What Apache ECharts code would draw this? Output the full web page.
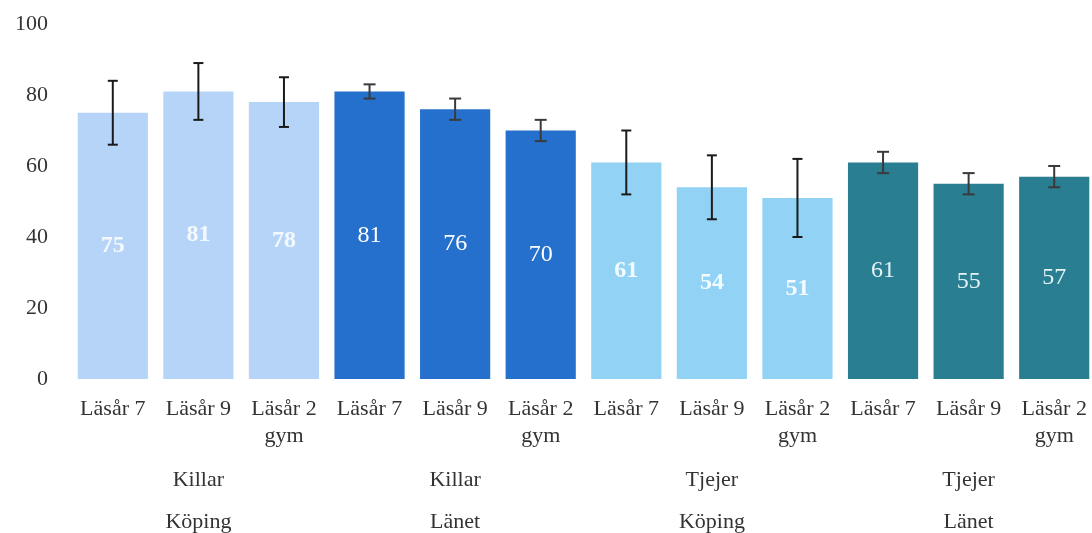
<!DOCTYPE html>
<html>
<head>
<meta charset="utf-8">
<script src="https://cdn.jsdelivr.net/npm/echarts@6/dist/echarts.min.js"></script>
<style>html,body{margin:0;padding:0;background:#fff;}#c{width:1092px;height:533px;}</style>
</head>
<body>
<div id="c"></div>
<script>
const categories = ['Läsår 7','Läsår 9','Läsår 2\ngym','Läsår 7','Läsår 9','Läsår 2\ngym','Läsår 7','Läsår 9','Läsår 2\ngym','Läsår 7','Läsår 9','Läsår 2\ngym'];
const groups = ['Killar\nKöping','Killar\nLänet','Tjejer\nKöping','Tjejer\nLänet'];
const groupOfBar = [0,0,0,1,1,1,2,2,2,3,3,3];
const values = [75,81,78,81,76,70,61,54,51,61,55,57];
const errLow = [66,73,71,79,73,67,52,45,40,58,52,54];
const errHigh = [84,89,85,83,79,73,70,63,62,64,58,60];
const yTicks = [0,20,40,60,80,100];

const palette = ['#b6d4f7','#2570cc','#92d2f4','#2a7e91'];
const labelColors = ['#f4f9ff','#ffffff','#f4fbff','#e4f3f5'];
const errColors = ['#1a1a1a','#3a3a3a','#1a1a1a','#3a3a3a'];
const serif = '"Liberation Serif", "DejaVu Serif", serif';

const chart = echarts.init(document.getElementById('c'));
chart.setOption({
  animation: false,
  grid: {left: 70, top: 24, width: 1027, height: 355, containLabel: false, outerBoundsMode: 'none'},
  xAxis: [{
    type: 'category', data: categories,
    axisLine: {show: false}, axisTick: {show: false},
    axisLabel: {color: '#333', fontFamily: serif, fontSize: 22, lineHeight: 27, margin: 17, interval: 0}
  }, {
    type: 'category', data: groups, position: 'bottom',
    axisLine: {show: false}, axisTick: {show: false},
    axisLabel: {color: '#333', fontFamily: serif, fontSize: 22, lineHeight: 42, margin: 80, interval: 0}
  }],
  yAxis: {
    type: 'value', min: yTicks[0], max: yTicks[yTicks.length-1], interval: 20,
    axisLine: {show: false}, axisTick: {show: false}, splitLine: {show: false},
    axisLabel: {color: '#333', fontFamily: serif, fontSize: 22, margin: 22}
  },
  series: [{
    type: 'bar', xAxisIndex: 0, barWidth: '82%',
    data: values.map((v, i) => ({
      value: v,
      itemStyle: {color: palette[groupOfBar[i]]},
      label: {
        show: true, position: 'inside',
        color: labelColors[groupOfBar[i]],
        fontWeight: (groupOfBar[i] % 2 === 0) ? 'bold' : 'normal',
        fontFamily: serif, fontSize: 24
      }
    }))
  }, {
    type: 'custom', xAxisIndex: 0,
    data: values.map((v, i) => [i, errLow[i], errHigh[i], groupOfBar[i]]),
    renderItem: function (params, api) {
      const lo = api.coord([api.value(0), api.value(1)]);
      const hi = api.coord([api.value(0), api.value(2)]);
      const g = api.value(3);
      const hw = (g % 2 === 0) ? 5 : 6;
      const style = {stroke: errColors[g], lineWidth: 2, fill: null};
      return {
        type: 'group',
        children: [
          {type: 'line', shape: {x1: hi[0], y1: hi[1], x2: lo[0], y2: lo[1]}, style: style},
          {type: 'line', shape: {x1: hi[0]-hw, y1: hi[1], x2: hi[0]+hw, y2: hi[1]}, style: style},
          {type: 'line', shape: {x1: lo[0]-hw, y1: lo[1], x2: lo[0]+hw, y2: lo[1]}, style: style}
        ]
      };
    },
    z: 5
  }]
});
</script>
</body>
</html>
